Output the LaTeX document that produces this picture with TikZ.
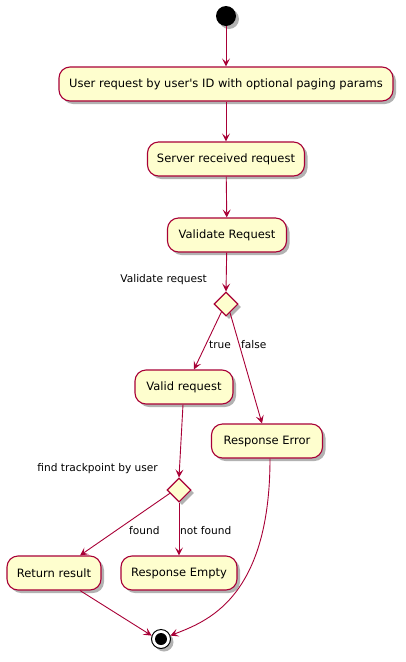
\documentclass[tikz,border=0pt]{standalone}
\usepackage{fontspec}
\setmainfont{DejaVu Sans}
\usetikzlibrary{arrows.meta,shapes.geometric,shadows}
\definecolor{umlfill}{HTML}{FEFECE}
\definecolor{umlline}{HTML}{A80036}
\begin{document}
\begin{tikzpicture}[x=1pt,y=-1pt,
  font=\fontsize{11.5}{13}\selectfont,
  act/.style={draw=umlline,fill=umlfill,line width=1.1pt,rounded corners=11pt,
    minimum height=34pt,inner sep=0pt,
    drop shadow={shadow xshift=3pt,shadow yshift=-3pt,opacity=0.3,fill=black}},
  choice/.style={draw=umlline,fill=umlfill,line width=1.1pt,diamond,
    minimum width=24pt,minimum height=24pt,inner sep=0pt,
    drop shadow={shadow xshift=3pt,shadow yshift=-3pt,opacity=0.3,fill=black}},
  flow/.style={draw=umlline,line width=0.9pt,-{Stealth[length=8pt,width=8pt,inset=3.5pt]}},
  lbl/.style={inner sep=0pt,font=\fontsize{10.6}{12}\selectfont}
]
\useasboundingbox (0,0) rectangle (406,662);
\node[circle,fill=black,minimum size=20pt,inner sep=0pt,
  drop shadow={shadow xshift=3pt,shadow yshift=-3pt,opacity=0.3,fill=black}] (start) at (226,16) {};
\node[act,minimum width=334pt] (b1) at (226,84) {User request by user\textquotesingle s ID with optional paging params};
\node[act,minimum width=157pt] (b2) at (226,159) {Server received request};
\node[act,minimum width=119pt] (b3) at (227,235) {Validate Request};
\node[choice] (d1) at (226,304) {};
\node[lbl,anchor=base east] (l1) at (207,282) {Validate request};
\node[act,minimum width=98pt] (valid) at (184,387) {Valid request};
\node[act,minimum width=111pt] (err) at (267,441) {Response Error};
\node[choice] (d2) at (179,490) {};
\node[lbl,anchor=base east] (l2) at (158,471) {find trackpoint by user};
\node[act,minimum width=94pt] (ret) at (54,573) {Return result};
\node[act,minimum width=116pt] (empty) at (179,573) {Response Empty};
\node[circle,draw=black,fill=white,line width=1pt,minimum size=19pt,inner sep=0pt,
  drop shadow={shadow xshift=3pt,shadow yshift=-3pt,opacity=0.3,fill=black}] (end) at (161,639) {};
\node[circle,fill=black,minimum size=12pt,inner sep=0pt] (endin) at (end) {};

\draw[flow] (start) -- (b1);
\draw[flow] (b1) -- (b2);
\draw[flow] (b2) -- (b3);
\draw[flow] (b3) -- (d1.north);
\draw[flow] (d1.-120) -- ([xshift=10pt]valid.north);
\draw[flow] (d1.-65) -- ([xshift=-5pt]err.north);
\draw[flow] ([xshift=-1pt]valid.south) -- (d2.north);
\draw[flow] (d2.-160) -- ([xshift=26pt]ret.north);
\draw[flow] (d2.south) -- (empty.north);
\draw[flow] ([xshift=26pt]ret.south) -- (end.160);
\draw[flow] ([xshift=3pt]err.south) .. controls (270,600) and (205,622) .. (end.20);
\node[lbl,anchor=base west] (lt) at (209,348) {true};
\node[lbl,anchor=base west] (lf) at (241,348) {false};
\node[lbl,anchor=base west] (lfd) at (129,534) {found};
\node[lbl,anchor=base west] (lnf) at (180,534) {not found};
\end{tikzpicture}
\end{document}
